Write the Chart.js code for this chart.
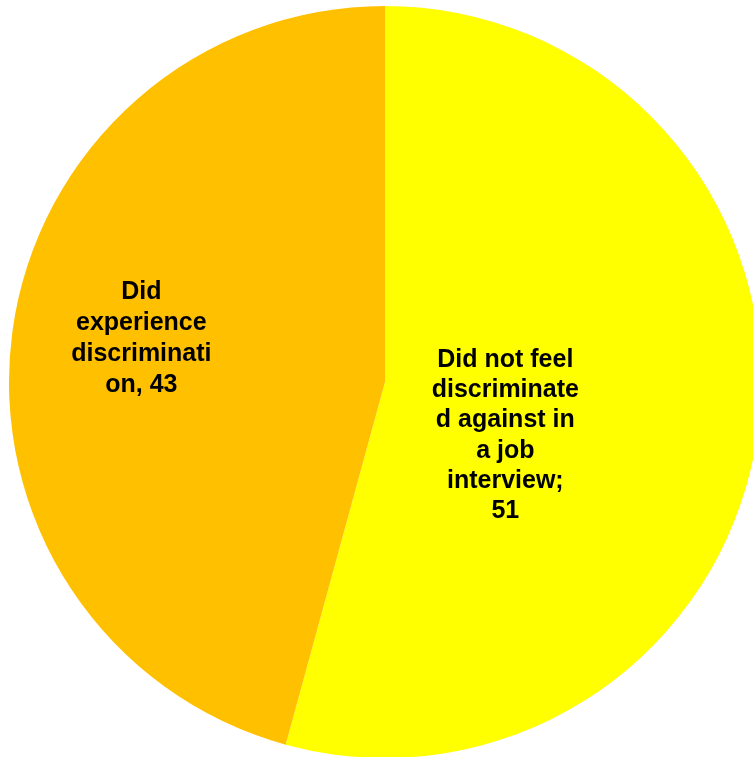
<!DOCTYPE html>
<html>
<head>
<meta charset="utf-8">
<script src="https://cdn.jsdelivr.net/npm/chart.js@4/dist/chart.umd.min.js"></script>
<style>
html,body{margin:0;padding:0;background:#fff;}
#wrap{width:753px;height:757px;}
</style>
</head>
<body>
<div id="wrap"><canvas id="c" width="753" height="757"></canvas></div>
<script>
const categories = ["Did not feel discriminated against in a job interview", "Did experience discrimination"];
const values = [51, 43];
const colors = ["#FFFF00", "#FFC000"];
const labelLines = [
  ["Did not feel", "discriminate", "d against in", "a job", "interview;", "51"],
  ["Did", "experience", "discriminati", "on, 43"]
];

const labelPlugin = {
  id: 'sliceLabels',
  afterDatasetsDraw(chart) {
    const ctx = chart.ctx;
    const meta = chart.getDatasetMeta(0);
    ctx.save();
    ctx.font = 'bold 25px "Liberation Sans", Arial, sans-serif';
    ctx.fillStyle = '#000';
    ctx.textAlign = 'center';
    ctx.textBaseline = 'alphabetic';
    const cfg = [
      {fx: 0.32, fy: -0.04, lh: 30.2},
      {fx: -0.648, fy: -0.22, lh: 31}
    ];
    meta.data.forEach((arc, i) => {
      const cx = arc.x, cy = arc.y, r = arc.outerRadius;
      const lines = labelLines[i];
      const c = cfg[i];
      const x = cx + c.fx * r;
      const y0 = cy + c.fy * r;
      lines.forEach((ln, k) => ctx.fillText(ln, x, y0 + k * c.lh));
    });
    ctx.restore();
  }
};

new Chart(document.getElementById('c'), {
  type: 'pie',
  data: {
    labels: categories,
    datasets: [{
      data: values,
      backgroundColor: colors,
      borderWidth: 0
    }]
  },
  options: {
    responsive: false,
    animation: false,
    radius: 376,
    layout: {padding: {left: 17, right: 0, top: 7, bottom: 0}},
    plugins: {legend: {display: false}, tooltip: {enabled: false}}
  },
  plugins: [labelPlugin]
});
</script>
</body>
</html>
